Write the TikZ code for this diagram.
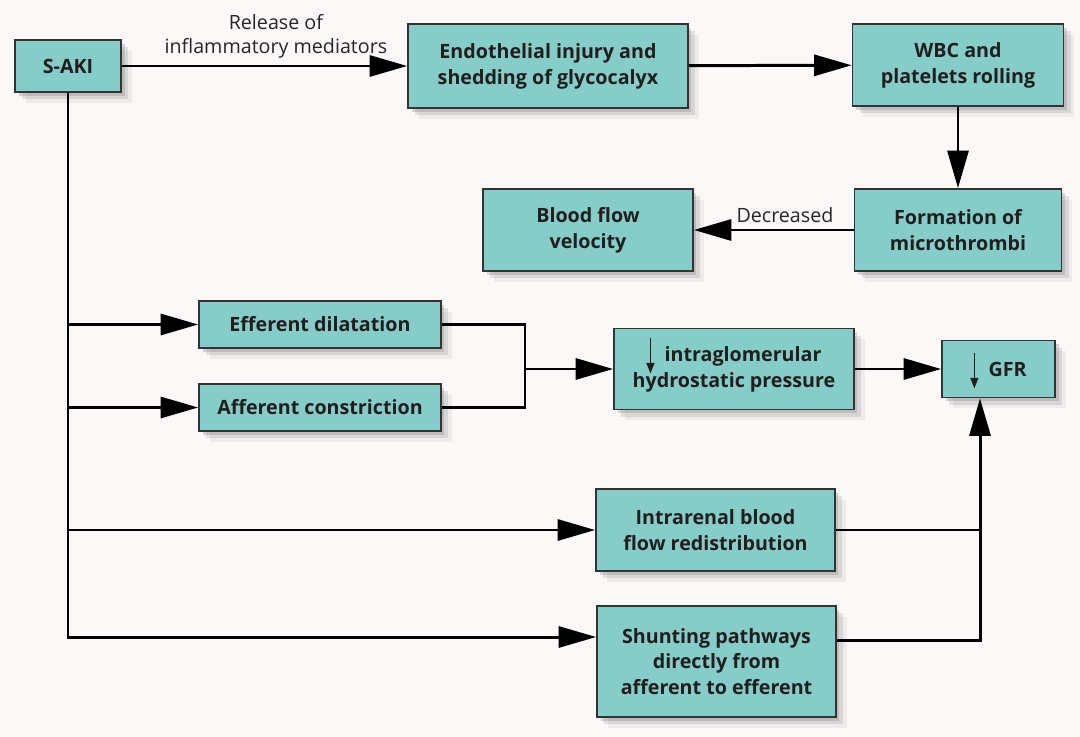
\documentclass[tikz,border=0pt]{standalone}
\usepackage{fontspec}
\setmainfont{Open Sans}
\usetikzlibrary{arrows.meta,positioning,shadows}
\definecolor{boxfill}{RGB}{134,204,200}
\definecolor{paper}{RGB}{252,248,247}
\newcommand{\dnarr}{\smash{\tikz[baseline=0pt]\draw[line width=0.9pt,-{Triangle[length=6pt,width=4.5pt]}] (0,13pt) -- (0,-7pt);}}

\begin{document}
\begin{tikzpicture}[x=0.02cm, y=-0.02cm,
  box/.style={draw=black!80, line width=1pt, fill=boxfill, align=center,
              font=\fontsize{11.2}{14.7}\selectfont\bfseries, text=black!88, inner sep=2pt,
              drop shadow={shadow xshift=2pt, shadow yshift=-2pt, opacity=.3},
              drop shadow={shadow xshift=4pt, shadow yshift=-4pt, opacity=.2},
              drop shadow={shadow xshift=6pt, shadow yshift=-6pt, opacity=.1}},
  arr/.style={-{Triangle[length=0.75cm, width=0.42cm]}, line width=1.7pt},
  line/.style={line width=1.7pt},
  lbl/.style={font=\fontsize{11.2}{14}\selectfont, align=center, text=black!85},
]
  \path[use as bounding box, fill=paper] (0,0) rectangle (1080,737);

  \node[box, minimum width=2.12cm, minimum height=1.04cm] (saki) at (68,66) {S-AKI};
  \node[box, minimum width=5.6cm, minimum height=1.68cm] (endo) at (548,66) {Endothelial injury and\\shedding of glycocalyx};
  \node[box, minimum width=4.22cm, minimum height=1.64cm] (wbc) at (958,65) {WBC and\\platelets rolling};
  \node[box, minimum width=4.14cm, minimum height=1.64cm] (micro) at (958,230) {Formation of\\microthrombi};
  \node[box, minimum width=4.2cm, minimum height=1.64cm] (flow) at (588,230) {Blood flow\\velocity};
  \node[box, minimum width=4.84cm, minimum height=0.94cm] (eff) at (320,324.5) {Efferent dilatation};
  \node[box, minimum width=4.84cm, minimum height=0.94cm] (aff) at (320,407.5) {Afferent constriction};
  \node[box, minimum width=4.8cm, minimum height=1.62cm] (ighp) at (734,369) {\dnarr\ \ intraglomerular\\hydrostatic pressure};
  \node[box, minimum width=2.26cm, minimum height=1.14cm] (gfr) at (998.5,369) {\dnarr\ \ GFR};
  \node[box, minimum width=4.78cm, minimum height=1.64cm] (redis) at (715.5,530) {Intrarenal blood\\flow redistribution};
  \node[box, minimum width=4.78cm, minimum height=2.22cm] (shunt) at (716.5,661.5) {Shunting pathways\\directly from\\afferent to efferent};

  \coordinate (join) at (525,369);
  \coordinate (gfrin) at ([xshift=-0.37cm]gfr.south);

  % top row
  \draw[arr] (saki) -- node[lbl, above, pos=.54] {Release of\\inflammatory mediators} (endo);
  \draw[arr] (endo) -- (wbc);
  \draw[arr] (wbc) -- (micro);
  \draw[arr] (micro) -- node[lbl, above, pos=.43] {Decreased} (flow);

  % trunk from S-AKI
  \draw[arr] (saki.south) |- ([yshift=0.49cm]shunt.west);
  \draw[arr] (saki.south |- eff.west) -- (eff.west);
  \draw[arr] (saki.south |- aff.west) -- (aff.west);
  \draw[arr] (saki.south |- redis.west) -- (redis.west);

  % pressure branch
  \draw[line] (eff.east) -| (join |- aff.east) -- (aff.east);
  \draw[arr] (join) -- (ighp.west);
  \draw[arr] (ighp) -- (gfr);

  % into GFR from below
  \draw[line] (redis.east) -- (redis.east -| gfrin);
  \draw[arr] ([yshift=0.43cm]shunt.east) -| (gfrin);
\end{tikzpicture}
\end{document}
